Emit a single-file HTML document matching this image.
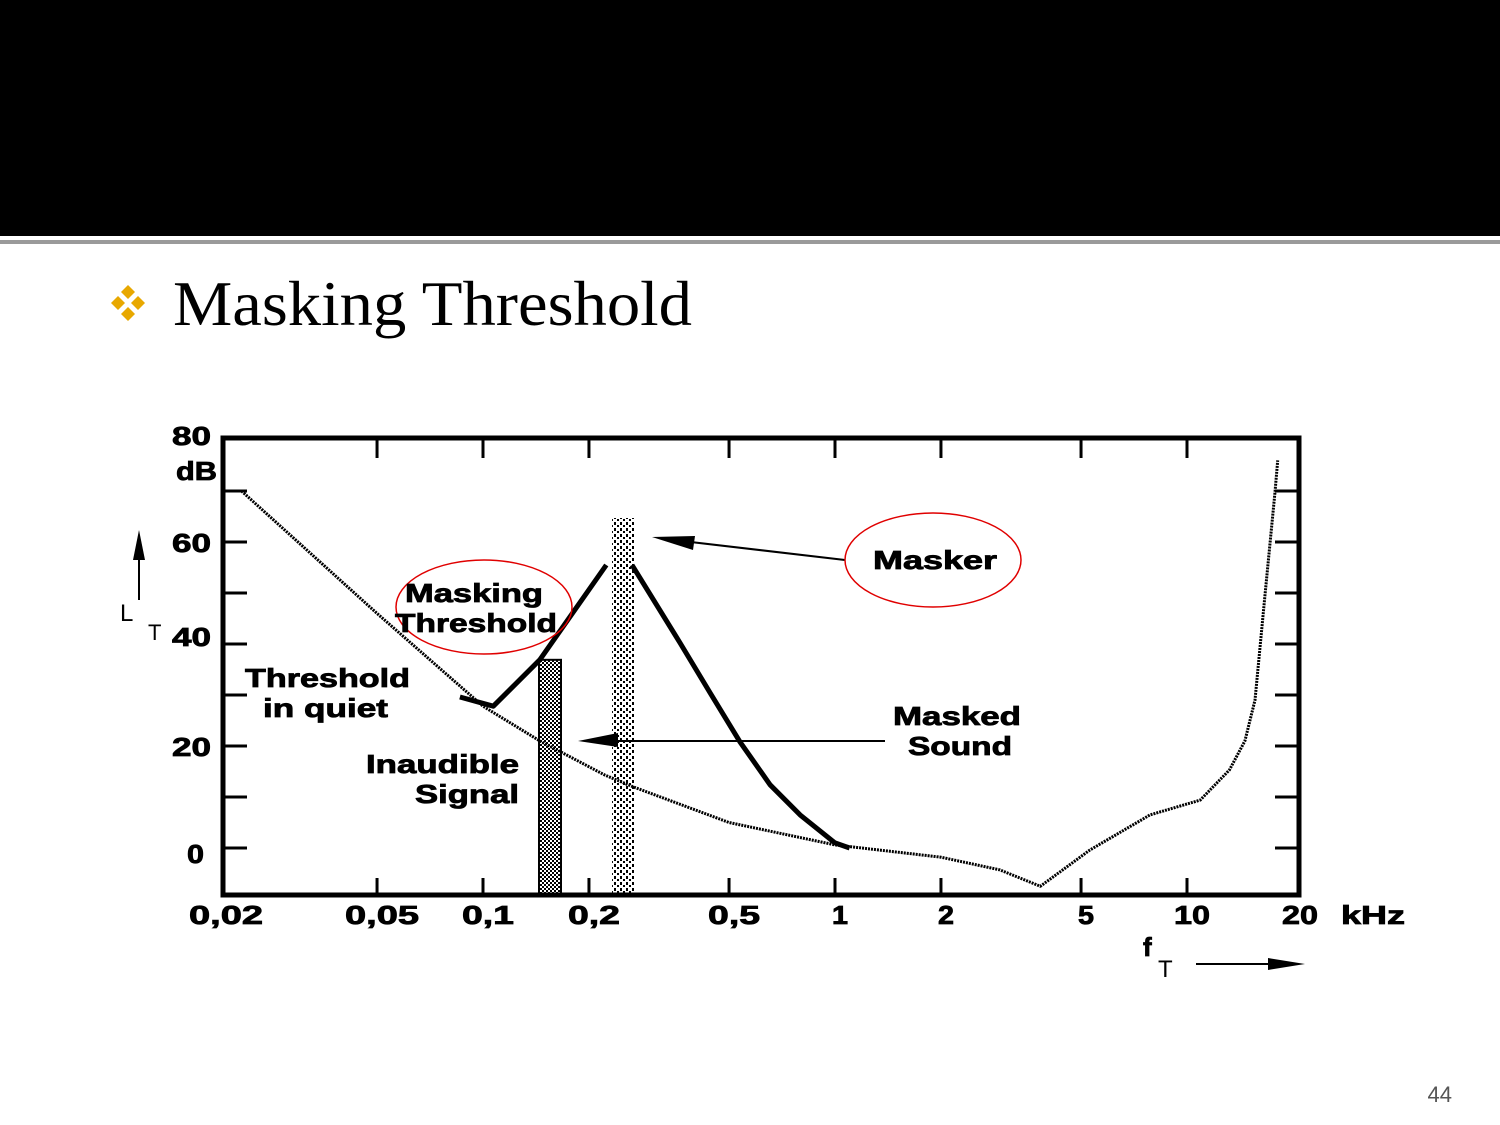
<!DOCTYPE html>
<html><head><meta charset="utf-8"><style>
html,body{margin:0;padding:0;background:#fff;}
svg{display:block;}
.lbl{font-family:"Liberation Sans",sans-serif;font-weight:bold;font-size:26px;fill:#000;stroke:#000;stroke-width:0.8px;}
</style></head><body>
<svg id="chart" width="1500" height="1125" viewBox="0 0 1500 1125" xmlns="http://www.w3.org/2000/svg">
<defs>
<pattern id="checker" width="4" height="4" patternUnits="userSpaceOnUse"><rect width="4" height="4" fill="#fff"/><rect width="2" height="2" fill="#000"/><rect x="2" y="2" width="2" height="2" fill="#000"/></pattern>
<pattern id="dots" x="608" width="6" height="6" patternUnits="userSpaceOnUse"><rect width="6" height="6" fill="#fff"/><rect width="2" height="3" fill="#000"/><rect x="3" y="3" width="2" height="2" fill="#000"/></pattern>
</defs>
<rect x="0" y="0" width="1500" height="236" fill="#000"/>
<rect x="0" y="240" width="1500" height="4" fill="#9a9a9a"/>
<g fill="#e8a800">
<polygon points="128,285 135,292 128,299 121,292"/><polygon points="118,296 125,303 118,310 111,303"/><polygon points="138,296 145,303 138,310 131,303"/><polygon points="128,307 135,314 128,321 121,314"/>
</g>
<text x="173" y="325" font-family="Liberation Serif,serif" font-size="64" textLength="519" lengthAdjust="spacingAndGlyphs" fill="#000">Masking Threshold</text>
<text x="1452" y="1102" font-family="Liberation Sans,sans-serif" font-size="22" text-anchor="end" fill="#555">44</text>
<g id="plot"></g>
</svg>
<script>
// data
const xTickFreqs=[0.05,0.1,0.2,0.5,1,2,5,10];
const xTickLabels=["0,02","0,05","0,1","0,2","0,5","1","2","5","10","20"];
const xLabelFreqs=[0.02,0.05,0.1,0.2,0.5,1,2,5,10,20];
const yTickVals=[0,10,20,30,40,50,60,70];
const yLabelVals=[0,20,40,60,80];
const quietFreq=[0.0206,0.05,0.1,0.145,0.222,0.267,0.5,1,2,2.94,3.83,5.3,7.85,10.9,13.2,14.6,15.6,16.6,17.8,18.1];
const quietDb=[70,46,27.8,21,14.3,12,5,0.6,-1.8,-4.3,-7.5,-0.4,6.5,9.4,15.3,21,29,48.6,70,76];
const maskLeftFreq=[0.086,0.107,0.145,0.224];
const maskLeftDb=[29.6,27.8,36.9,55.5];
const maskRightFreq=[0.265,0.363,0.442,0.537,0.654,0.796,1,1.1];
const maskRightDb=[55.5,40.2,30.4,20.8,12.4,6.5,1,0];
const maskerFreq=[0.25], maskerDb=[64.7];
const signalFreq=[0.155], signalDb=[36.9];

const L=223,R=1299,T=438,B=895;
const X=f=>835+352*Math.log10(f);
const Y=v=>848-v*5.1;
const NS="http://www.w3.org/2000/svg";
const g=document.getElementById('plot');
function mk(tag,attrs,parent){const e=document.createElementNS(NS,tag);for(const k in attrs)e.setAttribute(k,attrs[k]);(parent||g).appendChild(e);return e;}

const mw=22;
const mb=mk('rect',{x:X(maskerFreq[0])-mw/2,y:Y(maskerDb[0]),width:mw,height:B-Y(maskerDb[0]),fill:'url(#dots)'});


const sb=mk('rect',{x:X(signalFreq[0])-11,y:Y(signalDb[0]),width:22,height:B-Y(signalDb[0]),fill:'url(#checker)',stroke:'#000','stroke-width':2});



const fr=mk('rect',{x:L,y:T,width:R-L,height:B-T,fill:'none',stroke:'#000','stroke-width':5});



xTickFreqs.forEach(f=>{
 const t1=mk('line',{x1:X(f),x2:X(f),y1:T,y2:T+20,stroke:'#000','stroke-width':3});
 
 
 const t2=mk('line',{x1:X(f),x2:X(f),y1:B-17,y2:B,stroke:'#000','stroke-width':3});
 
 
});
yTickVals.forEach(v=>{
 const t1=mk('line',{x1:L,x2:L+24,y1:Y(v),y2:Y(v),stroke:'#000','stroke-width':3});
 
 
 const t2=mk('line',{x1:R-24,x2:R,y1:Y(v),y2:Y(v),stroke:'#000','stroke-width':3});
 
 
});
xLabelFreqs.forEach((f,i)=>{
 const s=xTickLabels[i];
 let x=X(f)+5; if(i===0)x=226; if(i===xLabelFreqs.length-1)x=1300;
 const len=s.length===1?16:(s.length===2?36:(s.length===3?52:74));
 const t=mk('text',{x:x,y:924,'text-anchor':'middle',class:'lbl',textLength:len,lengthAdjust:'spacingAndGlyphs'});
 t.textContent=s;
 
 
});
yLabelVals.forEach(v=>{
 let y=Y(v)+10; if(v===0)y=863; if(v===40)y=646; if(v===80)y=445;
 const t=mk('text',{x:v===0?204:211,y:y,'text-anchor':'end',class:'lbl',textLength:v===0?17:39,lengthAdjust:'spacingAndGlyphs'});
 t.textContent=String(v);
 
 
});
function txt(s,x,y,name,len){const t=mk('text',{x:x,y:y,class:'lbl'});if(len){t.setAttribute('textLength',len);t.setAttribute('lengthAdjust','spacingAndGlyphs');}t.textContent=s;return t;}
txt('dB',176,480,'y-unit-label',41);
txt('kHz',1341,924,'x-unit-label',64);
const lt=txt('L',120,621,'y-axis-title');lt.setAttribute('class','');lt.setAttribute('font-family','Liberation Sans,sans-serif');lt.setAttribute('font-size','24');
const lt2=txt('T',148,640,'y-axis-subscript');lt2.setAttribute('class','');lt2.setAttribute('font-family','Liberation Sans,sans-serif');lt2.setAttribute('font-size','22');
txt('f',1143,956,'x-axis-title');
const ft=txt('T',1158,977,'x-axis-subscript');ft.setAttribute('class','');ft.setAttribute('font-family','Liberation Sans,sans-serif');ft.setAttribute('font-size','24');
const ya=mk('line',{x1:139,x2:139,y1:600,y2:550,stroke:'#000','stroke-width':2});


mk('polygon',{points:'139,530 133,560 145,560',fill:'#000'});
const xa=mk('line',{x1:1196,x2:1280,y1:964,y2:964,stroke:'#000','stroke-width':2});


mk('polygon',{points:'1305,964 1268,958 1268,970',fill:'#000'});

function line(fs,vs,w,name,dash){
 const d=fs.map((f,i)=>(i?'L':'M')+X(f).toFixed(1)+','+Y(vs[i]).toFixed(1)).join(' ');
 const p=mk('path',{d:d,fill:'none',stroke:'#000','stroke-width':w,'stroke-linejoin':'round'});
 if(dash)p.setAttribute('stroke-dasharray',dash);
 
 
}
line(quietFreq,quietDb,3,'threshold-in-quiet-curve','2,1');
line(maskLeftFreq,maskLeftDb,5,'masking-threshold-left');
line(maskRightFreq,maskRightDb,5,'masking-threshold-right');

const a1=mk('line',{x1:845,y1:560,x2:665,y2:539,stroke:'#000','stroke-width':2});


mk('polygon',{points:'652,537 695,536 693,550',fill:'#000'});
const a2=mk('line',{x1:885,y1:741,x2:600,y2:741,stroke:'#000','stroke-width':2});


mk('polygon',{points:'578,741 618,733 618,747',fill:'#000'});
const e1=mk('ellipse',{cx:484,cy:607,rx:88,ry:47,fill:'none',stroke:'#e00000','stroke-width':1.5});


const e2=mk('ellipse',{cx:933,cy:560,rx:88,ry:47,fill:'none',stroke:'#e00000','stroke-width':1.5});


txt('Masking',405,602,'masking-threshold-label',138);
txt('Threshold',395,632,'masking-threshold-label-2',162);
txt('Masker',873,569,'masker-label',124);
txt('Threshold',245,687,'threshold-in-quiet-label',165);
txt('in quiet',263,717,'threshold-in-quiet-label-2',125);
txt('Inaudible',366,773,'inaudible-signal-label',153);
txt('Signal',415,803,'inaudible-signal-label-2',104);
txt('Masked',893,725,'masked-sound-label',128);
txt('Sound',908,755,'masked-sound-label-2',104);
</script>
</body></html>
